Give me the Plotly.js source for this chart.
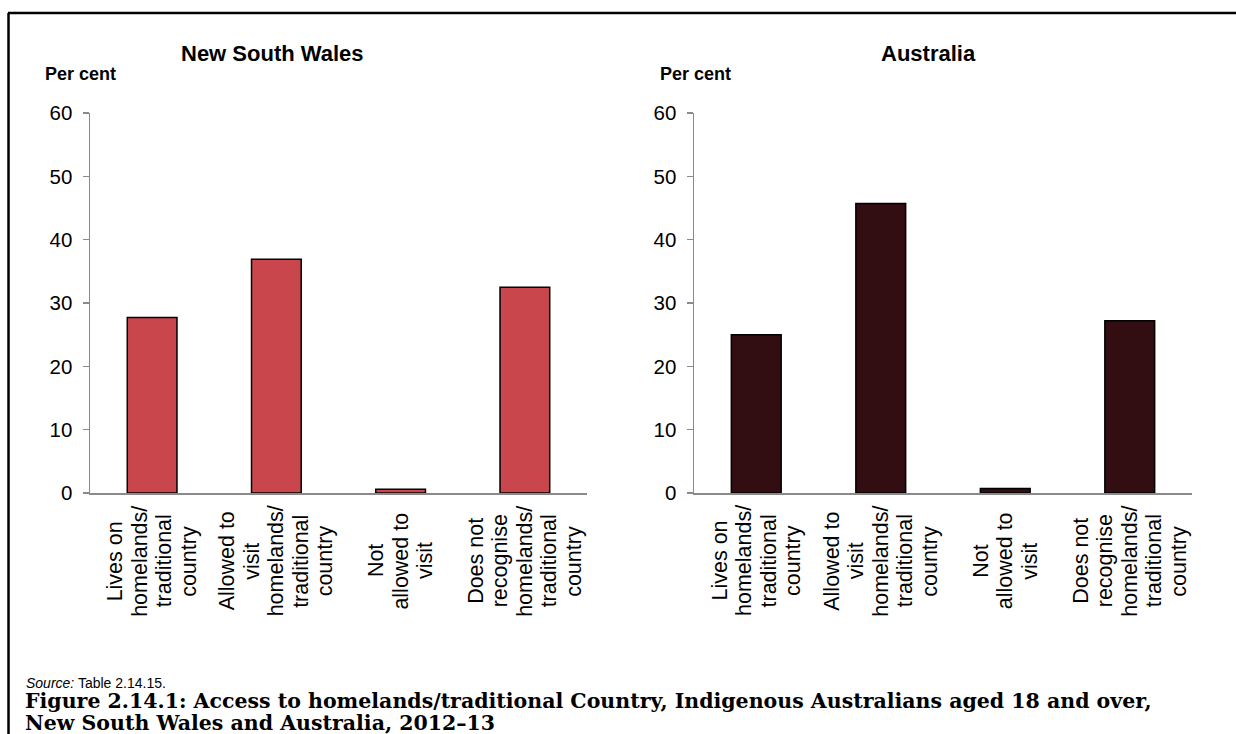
<!DOCTYPE html>
<html><head><meta charset="utf-8">
<script src="https://cdn.plot.ly/plotly-3.0.1.min.js"></script>
<style>html,body{margin:0;padding:0;background:#fff;} #chart{width:1236px;height:734px;}</style>
</head><body><div id="chart"></div>
<script>
// ---- data ----
const categories = [
  "Lives on<br>homelands/<br>traditional<br>country",
  "Allowed to<br>visit<br>homelands/<br>traditional<br>country",
  "Not<br>allowed to<br>visit",
  "Does not<br>recognise<br>homelands/<br>traditional<br>country"
];
const nswValues = [27.7, 36.9, 0.6, 32.5];
const ausValues = [25.0, 45.7, 0.7, 27.2];
const panelTitles = ["New South Wales", "Australia"];
const yTickValues = [0, 10, 20, 30, 40, 50, 60];
const yAxisLabel = "Per cent";
const sourceNote = "<i>Source:</i> Table 2.14.15.";
const captionLines = [
  "Figure 2.14.1: Access to homelands/traditional Country, Indigenous Australians aged 18 and over,",
  "New South Wales and Australia, 2012–13"
];

// ---- layout helpers ----
const W = 1236, H = 734;
const px = x => x / W;
const py = y => 1 - y / H;
const SANS = "Liberation Sans, Arial, sans-serif";
const AXIS_COLOR = "#8a8a8a";

const traces = [
  {type: "bar", x: categories, y: nswValues, xaxis: "x", yaxis: "y", width: 0.4,
   marker: {color: "#C9474C", line: {color: "#000", width: 1.5}}, hoverinfo: "y"},
  {type: "bar", x: categories, y: ausValues, xaxis: "x2", yaxis: "y2", width: 0.4,
   marker: {color: "#320D12", line: {color: "#000", width: 1.5}}, hoverinfo: "y"}
];

function xAxis(domain, anchor) {
  return {domain: domain, anchor: anchor, type: "category", showticklabels: false,
    showline: true, linecolor: AXIS_COLOR, linewidth: 1.5, ticks: "", showgrid: false,
    zeroline: false, fixedrange: true, range: [-0.5, 3.5]};
}
function yAxis(domain, anchor) {
  return {domain: domain, anchor: anchor, range: [0, 60], tickvals: yTickValues,
    ticks: "outside", ticklen: 6, tickwidth: 1.5, tickcolor: AXIS_COLOR,
    showline: true, linecolor: AXIS_COLOR, linewidth: 1.5, showgrid: false, zeroline: false,
    tickfont: {family: SANS, size: 20.5, color: "#000"}, ticklabelstandoff: 6, fixedrange: true};
}
const yDom = [py(493), py(113)];

const annotations = [];
// panel titles & y labels
const titlePos = [[272, 53], [928, 54]];
const perCentPos = [[43, 74], [658, 74]];
panelTitles.forEach((t, i) => {
  annotations.push({text: "<b>" + t + "</b>", xref: "paper", yref: "paper",
    x: px(titlePos[i][0]), y: py(titlePos[i][1]), xanchor: "center", yanchor: "middle",
    showarrow: false, font: {family: SANS, size: 22, color: "#000"}});
  annotations.push({text: "<b>" + yAxisLabel + "</b>", xref: "paper", yref: "paper",
    x: px(perCentPos[i][0]), y: py(perCentPos[i][1]), xanchor: "left", yanchor: "middle",
    showarrow: false, font: {family: SANS, size: 18, color: "#000"}});
});
// category labels (rotated, centred lines)
["x", "x2"].forEach(ax => {
  categories.forEach(c => {
    const lines = c.split("<br>");
    lines.forEach((ln, j) => {
      annotations.push({text: ln, xref: ax, yref: "paper", x: c, y: py(561),
        xanchor: "center", yanchor: "middle", textangle: -90,
        xshift: (j - (lines.length - 1) / 2) * 24.5, showarrow: false,
        font: {family: SANS, size: 21.5, color: "#000"}});
    });
  });
});
// source and caption
annotations.push({text: sourceNote, xref: "paper", yref: "paper", x: px(24), y: py(683),
  xanchor: "left", yanchor: "middle", showarrow: false, font: {family: SANS, size: 14, color: "#000"}});
captionLines.forEach((t, i) => {
  annotations.push({text: "<b>" + t + "</b>", xref: "paper", yref: "paper", x: px(23),
    y: py(701 + i * 22), xanchor: "left", yanchor: "middle", showarrow: false,
    font: {family: "DejaVu Serif, serif", size: 20.5, color: "#000"}});
});

const layout = {
  width: W, height: H, margin: {l: 0, r: 0, t: 0, b: 0},
  paper_bgcolor: "#fff", plot_bgcolor: "#fff", showlegend: false,
  xaxis: xAxis([px(90), px(587)], "y"),
  yaxis: yAxis(yDom, "x"),
  xaxis2: xAxis([px(694), px(1192)], "y2"),
  yaxis2: yAxis(yDom, "x2"),
  annotations: annotations,
  shapes: [
    {type: "line", xref: "paper", yref: "paper", x0: px(8), x1: 1, y0: py(13), y1: py(13), line: {color: "#000", width: 2.5}},
    {type: "line", xref: "paper", yref: "paper", x0: px(8.5), x1: px(8.5), y0: py(13), y1: 0, line: {color: "#000", width: 2.5}}
  ]
};

Plotly.newPlot("chart", traces, layout, {displayModeBar: false, staticPlot: true});
</script>
</body></html>
